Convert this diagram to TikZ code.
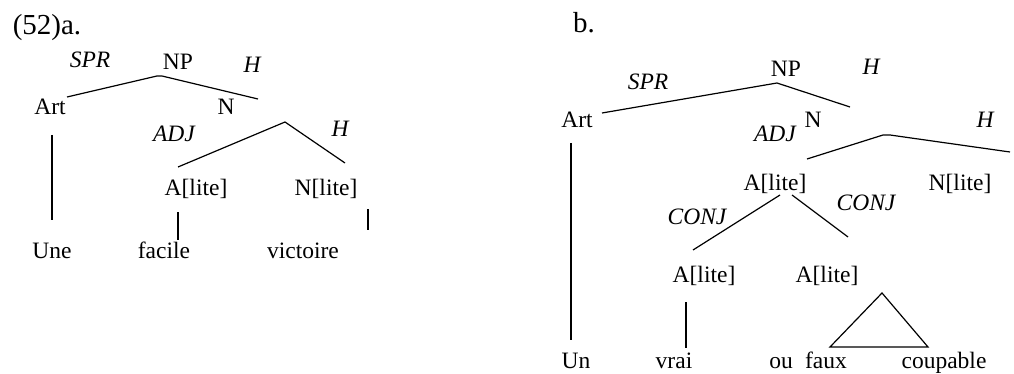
\documentclass[tikz,border=0pt]{standalone}
\usepackage{fontspec}
\setmainfont{Liberation Serif}
\begin{document}
\begin{tikzpicture}[x=1pt,y=-1pt,
  lab/.style={inner sep=0pt,anchor=base,font=\fontsize{23.5}{28}\selectfont},
  role/.style={lab,font=\fontsize{23.5}{28}\selectfont\itshape},
  exno/.style={lab,font=\fontsize{29}{34}\selectfont},
  branch/.style={line width=1.2pt}]
\useasboundingbox (0,0) rectangle (1014,374);

% ---------- tree (a) ----------
\node[exno] (numa)  at (47,35)   {(52)a.};
\node[role] (sprA)  at (90,68)   {SPR};
\node[lab]  (npA)   at (178,70)  {NP};
\node[role] (hA1)   at (252,73)  {H};
\node[lab]  (artA)  at (50,115)  {Art};
\node[lab]  (nA)    at (226,115) {N};
\node[role] (adjA)  at (174,142) {ADJ};
\node[role] (hA2)   at (340,137) {H};
\node[lab]  (alA)   at (196,196) {A[lite]};
\node[lab]  (nlA)   at (326,196) {N[lite]};
\node[lab]  (uneA)  at (52,258)  {Une};
\node[lab]  (facA)  at (164,258) {facile};
\node[lab]  (vicA)  at (303,258) {victoire};

\coordinate (a-topL)  at (157,76);
\coordinate (a-topR)  at (162,76);
\coordinate (a-artE)  at (67,97);
\coordinate (a-nE)    at (258,99);
\coordinate (a-nbar)  at (285,122);
\coordinate (a-adjE)  at (178,167);
\coordinate (a-hE)    at (345,163);
\coordinate (a-art1)  at (52,135);
\coordinate (a-art2)  at (52,220);
\coordinate (a-al1)   at (178,212);
\coordinate (a-al2)   at (178,240);
\coordinate (a-nl1)   at (368,209);
\coordinate (a-nl2)   at (368,230);

\draw[branch] (a-artE) -- (a-topL) -- (a-topR) -- (a-nE);
\draw[branch] (a-adjE) -- (a-nbar) -- (a-hE);
\draw[branch] (a-art1) -- (a-art2);
\draw[branch] (a-al1) -- (a-al2);
\draw[branch] (a-nl1) -- (a-nl2);

% ---------- tree (b) ----------
\node[exno] (numb)  at (584,33)  {b.};
\node[role] (sprB)  at (648,90)  {SPR};
\node[lab]  (npB)   at (786,77)  {NP};
\node[role] (hB1)   at (871,75)  {H};
\node[lab]  (artB)  at (577,128) {Art};
\node[lab]  (nB)    at (813,128) {N};
\node[role] (adjB)  at (775,142) {ADJ};
\node[role] (hB2)   at (985,128) {H};
\node[lab]  (alB)   at (775,190) {A[lite]};
\node[lab]  (nlB)   at (960,190) {N[lite]};
\node[role] (conjL) at (697,224) {CONJ};
\node[role] (conjR) at (866,211) {CONJ};
\node[lab]  (alL)   at (704,282) {A[lite]};
\node[lab]  (alR)   at (827,282) {A[lite]};
\node[lab]  (unB)   at (576,368) {Un};
\node[lab]  (vraiB) at (674,368) {vrai};
\node[lab]  (ouB)   at (781,368) {ou};
\node[lab]  (fauxB) at (826,368) {faux};
\node[lab]  (coupB) at (944,368) {coupable};

\coordinate (b-top)   at (777,83);
\coordinate (b-artE)  at (602,113);
\coordinate (b-nE)    at (850,107);
\coordinate (b-nbarL) at (883,135);
\coordinate (b-nbarR) at (890,135);
\coordinate (b-adjE)  at (807,159);
\coordinate (b-hE)    at (1010,152);
\coordinate (b-coL)   at (780,195);
\coordinate (b-coR)   at (792,195);
\coordinate (b-cjL)   at (693,250);
\coordinate (b-cjR)   at (848,237);
\coordinate (b-art1)  at (571,143);
\coordinate (b-art2)  at (571,340);
\coordinate (b-vr1)   at (686,302);
\coordinate (b-vr2)   at (686,348);
\coordinate (b-triT)  at (882,293);
\coordinate (b-triL)  at (830,347);
\coordinate (b-triR)  at (928,347);

\draw[branch] (b-artE) -- (b-top) -- (b-nE);
\draw[branch] (b-adjE) -- (b-nbarL) -- (b-nbarR) -- (b-hE);
\draw[branch] (b-cjL) -- (b-coL);
\draw[branch] (b-coR) -- (b-cjR);
\draw[branch] (b-art1) -- (b-art2);
\draw[branch] (b-vr1) -- (b-vr2);
\draw[branch,line join=miter] (b-triT) -- (b-triL) -- (b-triR) -- cycle;
\end{tikzpicture}
\end{document}
